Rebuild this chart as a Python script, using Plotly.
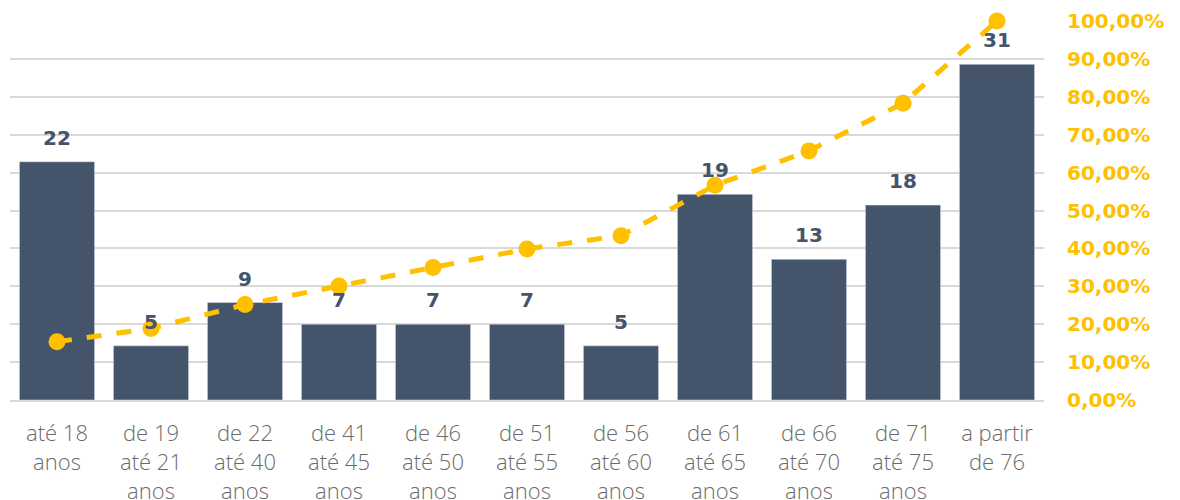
import plotly.graph_objects as go

categories = ["até 18<br>anos", "de 19<br>até 21<br>anos", "de 22<br>até 40<br>anos", "de 41<br>até 45<br>anos",
              "de 46<br>até 50<br>anos", "de 51<br>até 55<br>anos", "de 56<br>até 60<br>anos", "de 61<br>até 65<br>anos",
              "de 66<br>até 70<br>anos", "de 71<br>até 75<br>anos", "a partir<br>de 76"]
counts = [22, 5, 9, 7, 7, 7, 5, 19, 13, 18, 31]
cumulative_pct = [0.1538, 0.1888, 0.2517, 0.3007, 0.3497, 0.3986, 0.4336, 0.5664, 0.6573, 0.7832, 1.0]

BAR = "#44546A"
GOLD = "#FFC000"

fig = go.Figure()
fig.add_trace(go.Bar(x=categories, y=counts, marker_color=BAR, yaxis="y"))
fig.add_trace(go.Scatter(x=categories, y=cumulative_pct, yaxis="y2", mode="lines+markers",
                         line=dict(color=GOLD, width=5, dash="dash"),
                         marker=dict(color=GOLD, size=17), cliponaxis=False))

for c, v in zip(categories, counts):
    fig.add_annotation(x=c, y=v, yref="y", yanchor="bottom", yshift=10, showarrow=False,
                       text=f"<b>{v}</b>", font=dict(family="DejaVu Sans, sans-serif", size=20, color=BAR))

fig.update_layout(
    width=1180, height=500,
    margin=dict(l=10, r=136, t=21, b=100),
    paper_bgcolor="white", plot_bgcolor="white",
    showlegend=False, bargap=0.2,
    separators=", ",
    xaxis=dict(range=[-0.5, 10.5], showgrid=False, showline=True, linecolor="#D9D9D9", linewidth=2, ticks="",
               automargin=False, ticklabelstandoff=13,
               tickfont=dict(family="Open Sans, sans-serif", size=22, color="#6A6A6A", weight=300)),
    yaxis=dict(range=[0, 35], showgrid=False, showticklabels=False, zeroline=False, automargin=False),
    yaxis2=dict(range=[0, 1], overlaying="y", side="right", tickformat=".2%", dtick=0.1,
                showgrid=True, gridcolor="#D9D9D9", gridwidth=2, zeroline=False,
                ticklabelstandoff=22, automargin=False,
                tickfont=dict(family="DejaVu Sans, sans-serif", size=20, color=GOLD, weight="bold")),
)
fig.write_html("out.html")
